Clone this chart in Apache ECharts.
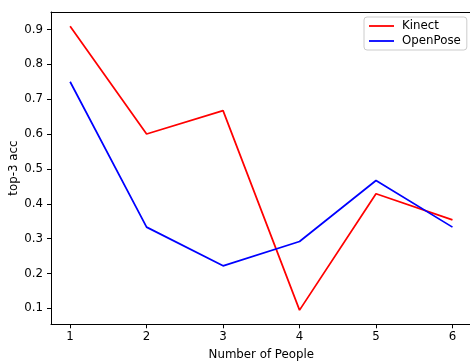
<!DOCTYPE html>
<html>
<head>
<meta charset="utf-8">
<script src="https://cdn.jsdelivr.net/npm/echarts@6/dist/echarts.min.js"></script>
<style>html,body{margin:0;padding:0;background:#fff;}#c{width:470px;height:363px;}</style>
</head>
<body>
<div id="c"></div>
<script>
const people = [1, 2, 3, 4, 5, 6];
const kinect = [0.909, 0.6, 0.667, 0.095, 0.4286, 0.354];
const openpose = [0.75, 0.333, 0.222, 0.2917, 0.4667, 0.333];
const yTicks = [0.1, 0.2, 0.3, 0.4, 0.5, 0.6, 0.7, 0.8, 0.9];
const xTicks = [1, 2, 3, 4, 5, 6];

const font = 'DejaVu Sans';
const fs = 11.8;
const chart = echarts.init(document.getElementById('c'), null, {renderer: 'canvas'});
chart.setOption({
  animation: false,
  backgroundColor: '#fff',
  textStyle: {fontFamily: font},
  grid: {left: 51, top: 12, width: 420.6, height: 312.3, show: false, outerBoundsMode: 'none', containLabel: false},
  legend: {
    left: 364, top: 17, orient: 'vertical',
    icon: 'rect', itemWidth: 25, itemHeight: 1.8, itemGap: 3,
    padding: [3, 6, 3, 5],
    borderColor: '#cccccc', borderWidth: 1, borderRadius: 3,
    backgroundColor: 'rgba(255,255,255,0.8)',
    textStyle: {fontFamily: font, fontSize: fs, color: '#000', padding: [0, 0, 0, 3]},
    data: ['Kinect', 'OpenPose']
  },
  xAxis: [{
    type: 'value', min: 0.75, max: 6.25,
    name: 'Number of People', nameLocation: 'middle', nameGap: 25, nameMoveOverlap: false,
    nameTextStyle: {fontFamily: font, fontSize: fs, color: '#000'},
    axisLine: {show: true, lineStyle: {color: '#000', width: 1}},
    axisTick: {show: true, length: 4, lineStyle: {color: '#000', width: 1}, customValues: xTicks},
    axisLabel: {fontFamily: font, fontSize: fs, color: '#000', margin: 7, customValues: xTicks},
    splitLine: {show: false}
  }, {
    type: 'value', position: 'top', min: 0.75, max: 6.25,
    axisLine: {show: true, onZero: false, lineStyle: {color: '#000', width: 1}},
    axisTick: {show: false}, axisLabel: {show: false}, splitLine: {show: false}
  }],
  yAxis: {
    type: 'value', min: 0.0543, max: 0.95,
    name: 'top-3 acc', nameLocation: 'middle', nameGap: 31, nameMoveOverlap: false,
    nameTextStyle: {fontFamily: font, fontSize: fs, color: '#000'},
    axisLine: {show: true, lineStyle: {color: '#000', width: 1}},
    axisTick: {show: true, length: 4, lineStyle: {color: '#000', width: 1}, customValues: yTicks},
    axisLabel: {fontFamily: font, fontSize: fs, color: '#000', margin: 8, customValues: yTicks, formatter: v => v.toFixed(1)},
    splitLine: {show: false}
  },
  series: [
    {name: 'Kinect', type: 'line', data: people.map((p, i) => [p, kinect[i]]), symbol: 'none', color: '#ff0000', lineStyle: {width: 1.75, color: '#ff0000'}},
    {name: 'OpenPose', type: 'line', data: people.map((p, i) => [p, openpose[i]]), symbol: 'none', color: '#0000ff', lineStyle: {width: 1.75, color: '#0000ff'}}
  ]
});
</script>
</body>
</html>
